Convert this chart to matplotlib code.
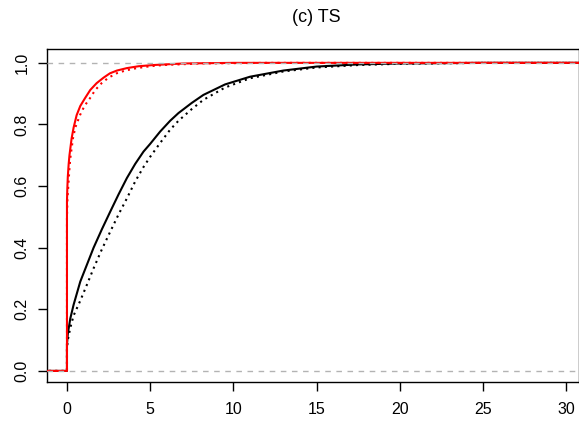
import matplotlib
matplotlib.use("Agg")
import matplotlib.pyplot as plt

plt.rcParams['font.family'] = ['Liberation Sans', 'DejaVu Sans']

black_solid_x = [0, 0.05, 0.2, 0.4, 0.8, 1.2, 1.6, 2.1, 2.6, 3.1, 3.6, 4.1, 4.6, 5.0, 5.6,
                 6.2, 6.7, 7.5, 8.2, 9.5, 11, 13, 15, 17.5, 20, 25, 40]
black_solid_y = [0.085, 0.12, 0.17, 0.215, 0.29, 0.345, 0.40, 0.46, 0.517, 0.573, 0.626,
                 0.672, 0.712, 0.737, 0.777, 0.812, 0.837, 0.87, 0.896, 0.93, 0.955, 0.975,
                 0.988, 0.995, 0.998, 1.0, 1.0]

black_dot_x = [0, 0.05, 0.2, 0.4, 0.8, 1.2, 1.6, 2.1, 2.6, 3.1, 3.6, 4.1, 4.6, 5.0, 5.6,
               6.2, 6.7, 7.5, 8.2, 9.5, 11, 13, 15, 17.5, 20, 25, 40]
black_dot_y = [0.07, 0.10, 0.14, 0.18, 0.228, 0.28, 0.333, 0.395, 0.452, 0.508, 0.56,
               0.615, 0.662, 0.695, 0.74, 0.783, 0.812, 0.85, 0.88, 0.92, 0.95, 0.972,
               0.985, 0.993, 0.997, 1.0, 1.0]

red_solid_x = [0, 0.02, 0.05, 0.1, 0.15, 0.28, 0.4, 0.58, 0.8, 1.08, 1.4, 1.78, 2.2, 2.58,
               3.0, 3.6, 4.3, 5.2, 7, 10, 40]
red_solid_y = [0.55, 0.59, 0.63, 0.67, 0.70, 0.755, 0.79, 0.83, 0.86, 0.885, 0.912, 0.934,
               0.952, 0.966, 0.975, 0.983, 0.989, 0.993, 0.998, 1.0, 1.0]

red_dot_x = [0, 0.03, 0.08, 0.14, 0.2, 0.36, 0.5, 0.78, 1.05, 1.38, 1.7, 2.08, 2.5, 2.98,
             3.5, 4.2, 5.0, 5.8, 8, 12, 40]
red_dot_y = [0.50, 0.56, 0.60, 0.65, 0.69, 0.755, 0.79, 0.83, 0.86, 0.885, 0.912, 0.934,
             0.952, 0.966, 0.975, 0.983, 0.989, 0.993, 0.998, 1.0, 1.0]

x_ticks = [0, 5, 10, 15, 20, 25, 30]
y_ticks = [0.0, 0.2, 0.4, 0.6, 0.8, 1.0]
x_lim = (-1.2, 30.77)
y_lim = (-0.036, 1.045)


def ecdf_line(xs, ys):
    # flat at 0 left of the first jump, then the vertical jump at xs[0]
    return [x_lim[0] - 5, xs[0]] + xs, [0, 0] + ys


fig = plt.figure(figsize=(5.79, 4.22), dpi=100)
ax = fig.add_axes([47 / 579, 40 / 422, 1 - 47 / 579, 333 / 422])

x, y = ecdf_line(black_solid_x, black_solid_y)
ax.plot(x, y, color='black', lw=1.5, zorder=3)
x, y = ecdf_line(black_dot_x, black_dot_y)
ax.plot(x, y, color='black', lw=1.5, ls=(0, (1, 2)), zorder=3)
x, y = ecdf_line(red_solid_x, red_solid_y)
ax.plot(x, y, color='red', lw=1.5, zorder=4)
x, y = ecdf_line(red_dot_x, red_dot_y)
ax.plot(x, y, color='red', lw=1.5, ls=(0, (1, 2)), zorder=4)

# 0/1 reference lines drawn over the curves
for yv in (0, 1):
    ax.axhline(yv, color='#b3b3b3', lw=1, ls=(0, (4, 4)), zorder=5)

ax.set_xlim(*x_lim)
ax.set_ylim(*y_lim)
ax.set_xticks(x_ticks)
ax.set_yticks(y_ticks)
ax.set_yticklabels([f"{v:.1f}" for v in y_ticks], rotation=90, va='center')
ax.tick_params(labelsize=11.5, length=6.5, width=1)
ax.tick_params(axis='x', pad=8)
ax.tick_params(axis='y', pad=6)
for s in ax.spines.values():
    s.set_linewidth(1)

fig.text(316 / 579, 1 - 18 / 422, "(c) TS", ha='center', va='center', fontsize=13)

fig.savefig("out.png", dpi=100)
